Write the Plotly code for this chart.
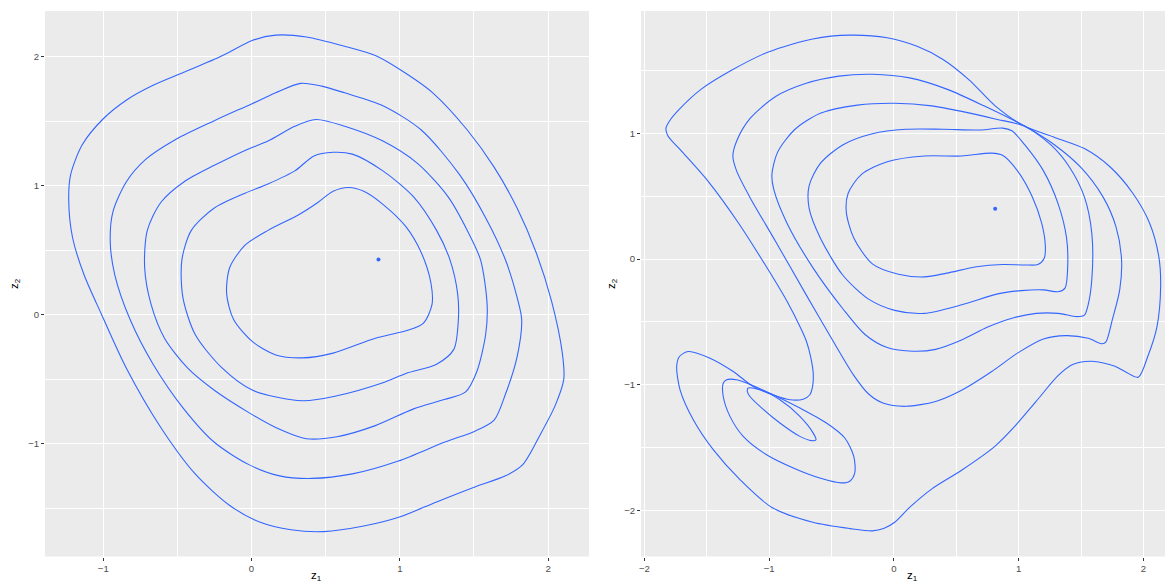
import plotly.graph_objects as go

# ---------------- data ----------------
# Left panel: five density contours, each a closed path of (z1, z2) points
left_level1 = [(0.163, 2.167), (0.370, 2.153), (0.628, 2.081), (0.835, 2.009), (0.990, 1.908),
               (1.222, 1.720), (1.455, 1.432), (1.636, 1.144), (1.791, 0.827), (1.920, 0.481),
               (2.023, 0.107), (2.096, -0.297), (2.106, -0.499), (2.049, -0.700), (1.946, -0.931),
               (1.829, -1.161), (1.713, -1.248), (1.506, -1.334), (1.248, -1.450), (1.003, -1.565),
               (0.757, -1.637), (0.486, -1.680), (0.266, -1.666), (0.059, -1.608), (-0.147, -1.478),
               (-0.380, -1.233), (-0.612, -0.873), (-0.845, -0.412), (-1.013, 0.006), (-1.129, 0.308),
               (-1.207, 0.597), (-1.233, 0.885), (-1.220, 1.086), (-1.142, 1.317), (-1.000, 1.519),
               (-0.845, 1.663), (-0.664, 1.778), (-0.457, 1.879), (-0.250, 1.980), (-0.147, 2.037),
               (0.000, 2.124), (0.163, 2.167)]
left_level2 = [(0.331, 1.793), (0.473, 1.772), (0.628, 1.720), (0.886, 1.620), (1.145, 1.432),
               (1.403, 1.086), (1.584, 0.741), (1.713, 0.424), (1.791, 0.135), (1.822, -0.037),
               (1.791, -0.326), (1.713, -0.614), (1.636, -0.816), (1.506, -0.902), (1.300, -0.988),
               (0.990, -1.133), (0.680, -1.233), (0.408, -1.268), (0.189, -1.248), (-0.018, -1.161),
               (-0.251, -0.988), (-0.457, -0.729), (-0.664, -0.383), (-0.819, -0.037), (-0.922, 0.308),
               (-0.953, 0.568), (-0.935, 0.798), (-0.845, 1.029), (-0.716, 1.202), (-0.509, 1.360),
               (-0.251, 1.504), (0.000, 1.634), (0.163, 1.720), (0.331, 1.793)]
left_level3 = [(0.434, 1.513), (0.628, 1.461), (0.886, 1.346), (1.119, 1.173), (1.326, 0.914),
               (1.455, 0.654), (1.545, 0.424), (1.589, 0.078), (1.579, -0.153), (1.519, -0.441),
               (1.442, -0.599), (1.300, -0.657), (1.093, -0.729), (0.835, -0.859), (0.576, -0.945),
               (0.370, -0.960), (0.163, -0.873), (-0.018, -0.758), (-0.251, -0.585), (-0.432, -0.412),
               (-0.587, -0.182), (-0.677, 0.078), (-0.721, 0.366), (-0.703, 0.654), (-0.612, 0.870),
               (-0.457, 1.029), (-0.251, 1.158), (-0.044, 1.274), (0.111, 1.346), (0.292, 1.461),
               (0.434, 1.513)]
left_level4 = [(0.550, 1.259), (0.680, 1.245), (0.886, 1.115), (1.093, 0.914), (1.248, 0.654),
               (1.339, 0.424), (1.390, 0.164), (1.395, -0.037), (1.364, -0.268), (1.248, -0.383),
               (1.041, -0.455), (0.886, -0.527), (0.576, -0.628), (0.344, -0.666), (0.008, -0.585),
               (-0.199, -0.412), (-0.380, -0.153), (-0.463, 0.135), (-0.470, 0.424), (-0.406, 0.654),
               (-0.251, 0.827), (-0.044, 0.942), (0.111, 1.014), (0.292, 1.115), (0.421, 1.231),
               (0.550, 1.259)]
left_level5 = [(0.654, 0.986), (0.757, 0.957), (0.886, 0.856), (1.041, 0.683), (1.145, 0.481),
               (1.209, 0.251), (1.217, 0.078), (1.158, -0.066), (1.041, -0.124), (0.835, -0.182),
               (0.550, -0.297), (0.344, -0.334), (0.163, -0.311), (0.008, -0.210), (-0.121, -0.037),
               (-0.168, 0.164), (-0.147, 0.366), (-0.044, 0.539), (0.111, 0.654), (0.318, 0.775),
               (0.447, 0.870), (0.550, 0.957), (0.654, 0.986)]
left_point = (0.856, 0.429)

# Right panel: five main contours plus two small closed loops in the lower left
right_level1 = [(-0.352, 1.780), (-0.054, 1.759), (0.185, 1.691), (0.393, 1.587), (0.602, 1.425),
                (0.811, 1.218), (1.049, 1.055), (1.288, 0.967), (1.526, 0.878), (1.735, 0.730),
                (1.914, 0.523), (2.048, 0.287), (2.122, 0.021), (2.137, -0.216), (2.107, -0.541),
                (2.033, -0.777), (1.958, -0.940), (1.854, -0.896), (1.765, -0.851), (1.586, -0.813),
                (1.437, -0.837), (1.317, -0.925), (1.139, -1.132), (0.960, -1.339), (0.811, -1.487),
                (0.542, -1.679), (0.304, -1.827), (0.125, -1.975), (0.006, -2.093), (-0.083, -2.143),
                (-0.173, -2.161), (-0.352, -2.143), (-0.650, -2.093), (-0.978, -1.975), (-1.234, -1.754),
                (-1.448, -1.516), (-1.608, -1.278), (-1.714, -1.040), (-1.741, -0.855), (-1.719, -0.775),
                (-1.648, -0.735), (-1.474, -0.788), (-1.288, -0.894), (-1.128, -1.013), (-0.968, -1.079),
                (-0.834, -1.119), (-0.727, -1.114), (-0.674, -1.079), (-0.652, -1.013), (-0.647, -0.907),
                (-0.668, -0.775), (-0.701, -0.656), (-0.741, -0.563), (-0.858, -0.334), (-1.037, -0.038),
                (-1.246, 0.287), (-1.484, 0.612), (-1.693, 0.848), (-1.812, 0.981), (-1.827, 1.041),
                (-1.797, 1.100), (-1.723, 1.188), (-1.544, 1.351), (-1.305, 1.499), (-1.007, 1.646),
                (-0.650, 1.750), (-0.352, 1.780)]
right_level2 = [(-0.173, 1.469), (0.125, 1.440), (0.423, 1.351), (0.721, 1.218), (1.049, 1.055),
                (1.288, 0.907), (1.496, 0.730), (1.675, 0.494), (1.779, 0.257), (1.824, -0.009),
                (1.809, -0.245), (1.750, -0.482), (1.699, -0.659), (1.669, -0.674), (1.556, -0.630),
                (1.377, -0.609), (1.198, -0.636), (0.990, -0.748), (0.781, -0.896), (0.542, -1.043),
                (0.334, -1.132), (0.095, -1.171), (-0.083, -1.147), (-0.203, -1.073), (-0.322, -0.925),
                (-0.501, -0.630), (-0.709, -0.275), (-0.948, 0.139), (-1.156, 0.494), (-1.261, 0.701),
                (-1.291, 0.819), (-1.261, 0.937), (-1.156, 1.114), (-0.948, 1.292), (-0.709, 1.395),
                (-0.441, 1.454), (-0.173, 1.469)]
right_level3 = [(0.006, 1.239), (0.304, 1.218), (0.542, 1.174), (0.811, 1.114), (1.049, 1.055),
                (1.258, 0.907), (1.407, 0.730), (1.526, 0.494), (1.586, 0.198), (1.586, -0.157),
                (1.556, -0.364), (1.526, -0.446), (1.466, -0.458), (1.317, -0.432), (1.139, -0.432),
                (0.960, -0.467), (0.751, -0.541), (0.542, -0.644), (0.334, -0.718), (0.155, -0.733),
                (-0.054, -0.704), (-0.232, -0.600), (-0.411, -0.393), (-0.650, -0.068), (-0.858, 0.287),
                (-0.963, 0.553), (-0.978, 0.671), (-0.933, 0.848), (-0.799, 1.026), (-0.590, 1.159),
                (-0.292, 1.224), (0.006, 1.239)]
right_level4 = [(0.393, 1.032), (0.692, 1.026), (0.870, 1.041), (0.945, 1.020), (1.049, 0.907),
                (1.198, 0.701), (1.317, 0.435), (1.383, 0.168), (1.392, -0.068), (1.371, -0.231),
                (1.317, -0.260), (1.198, -0.245), (1.019, -0.251), (0.841, -0.275), (0.542, -0.364),
                (0.244, -0.432), (0.006, -0.408), (-0.203, -0.319), (-0.411, -0.127), (-0.590, 0.168),
                (-0.680, 0.405), (-0.680, 0.582), (-0.590, 0.760), (-0.411, 0.907), (-0.173, 0.996),
                (0.095, 1.032), (0.393, 1.032)]
right_level5 = [(0.542, 0.819), (0.781, 0.842), (0.870, 0.825), (0.990, 0.701), (1.109, 0.494),
                (1.183, 0.287), (1.213, 0.109), (1.204, 0.006), (1.153, -0.044), (1.049, -0.047),
                (0.870, -0.044), (0.662, -0.062), (0.423, -0.112), (0.244, -0.142), (0.036, -0.121),
                (-0.173, -0.038), (-0.322, 0.168), (-0.382, 0.375), (-0.367, 0.523), (-0.262, 0.671),
                (-0.054, 0.774), (0.244, 0.819), (0.542, 0.819)]
right_loop2 = [(-1.261, -0.960), (-1.128, -1.008), (-0.968, -1.079), (-0.754, -1.185), (-0.541, -1.304),
               (-0.394, -1.423), (-0.322, -1.569), (-0.314, -1.701), (-0.354, -1.767), (-0.421, -1.780),
               (-0.594, -1.741), (-0.807, -1.661), (-1.021, -1.556), (-1.208, -1.410), (-1.314, -1.251),
               (-1.368, -1.093), (-1.368, -0.987), (-1.341, -0.960), (-1.261, -0.960)]
right_loop3 = [(-1.074, -1.040), (-0.914, -1.119), (-0.754, -1.251), (-0.647, -1.384), (-0.625, -1.437),
               (-0.661, -1.444), (-0.754, -1.410), (-0.914, -1.304), (-1.074, -1.172), (-1.154, -1.093),
               (-1.175, -1.053), (-1.168, -1.026), (-1.074, -1.040)]
right_point = (0.811, 0.399)

left_ticks = [-1, 0, 1, 2]
right_xticks = [-2, -1, 0, 1, 2]
right_yticks = [-2, -1, 0, 1]
x_title = "z<sub>1</sub>"
y_title = "z<sub>2</sub>"

# ---------------- figure ----------------
LINE = "#3366FF"
W, H = 1173, 583
OFF = 8  # the page body margin shifts the figure by 8px right and down
fig = go.Figure()


def add_path(pts, xa, ya):
    fig.add_trace(go.Scatter(
        x=[p[0] for p in pts], y=[p[1] for p in pts], mode="lines",
        line=dict(color=LINE, width=1.1, shape="spline", smoothing=0.8),
        xaxis=xa, yaxis=ya, hoverinfo="skip", showlegend=False))


for c in [left_level1, left_level2, left_level3, left_level4, left_level5]:
    add_path(c, "x", "y")
for c in [right_level1, right_level2, right_level3, right_level4, right_level5,
          right_loop2, right_loop3]:
    add_path(c, "x2", "y2")

fig.add_trace(go.Scatter(x=[left_point[0]], y=[left_point[1]], mode="markers",
                         marker=dict(color=LINE, size=4), xaxis="x", yaxis="y",
                         showlegend=False))
fig.add_trace(go.Scatter(x=[right_point[0]], y=[right_point[1]], mode="markers",
                         marker=dict(color=LINE, size=4), xaxis="x2", yaxis="y2",
                         showlegend=False))

FONT = "Liberation Sans, Arial, sans-serif"
ax_common = dict(
    showgrid=True, gridcolor="white", gridwidth=1.2, zeroline=False,
    showline=False, ticks="outside", ticklen=3, tickwidth=1, tickcolor="#333333",
    tickfont=dict(family=FONT, size=9.6, color="#4D4D4D"), automargin=False,
    minor=dict(showgrid=True, gridcolor="white", gridwidth=0.55, ticks=""),
)


def px_x(px):
    return (px - OFF) / W


def px_y(py):
    return 1 - (py - OFF) / H


ydom = [px_y(556.5), px_y(11)]
fig.update_layout(
    width=W, height=H, margin=dict(l=0, r=0, t=0, b=0),
    paper_bgcolor="white", plot_bgcolor="#EBEBEB", showlegend=False,
    xaxis=dict(domain=[px_x(45), px_x(589)], range=[-1.393, 2.276], tickvals=left_ticks,
               minor_dtick=0.5, anchor="y", **ax_common),
    yaxis=dict(domain=ydom, range=[-1.873, 2.354], tickvals=left_ticks,
               minor_dtick=0.5, anchor="x", **ax_common),
    xaxis2=dict(domain=[px_x(641), px_x(1170)], range=[-2.027, 2.212], tickvals=right_xticks,
                minor_dtick=0.5, anchor="y2", **ax_common),
    yaxis2=dict(domain=ydom, range=[-2.365, 1.972], tickvals=right_yticks,
                minor_dtick=0.5, anchor="x2", **ax_common),
)

title_font = dict(family=FONT, size=11.5, color="black")
for cx in (316, 912):
    fig.add_annotation(text=x_title, x=px_x(cx), y=px_y(576), xref="paper", yref="paper",
                       xanchor="center", yanchor="middle", showarrow=False, font=title_font)
for cx in (15, 612):
    fig.add_annotation(text=y_title, x=px_x(cx), y=px_y(284), xref="paper", yref="paper",
                       xanchor="center", yanchor="middle", showarrow=False, font=title_font,
                       textangle=-90)

fig.write_html("out.html")
